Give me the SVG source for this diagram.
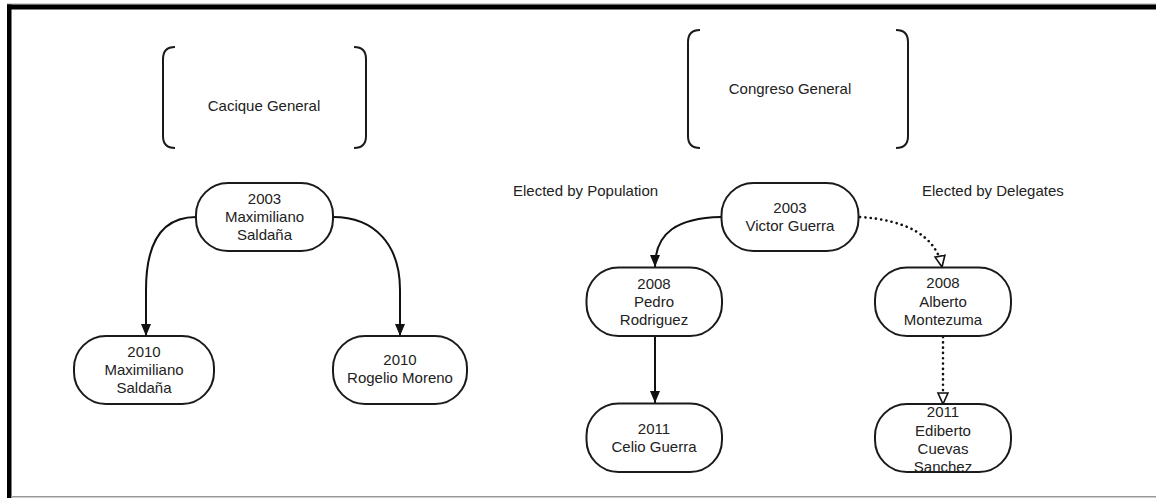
<svg xmlns="http://www.w3.org/2000/svg" width="1156" height="498" viewBox="0 0 1156 498">
<style>
  .node rect { fill: #fff; stroke: #1a1a1a; stroke-width: 2; }
  .bracket { fill: none; stroke: #1a1a1a; stroke-width: 2; }
  text { font-family: "Liberation Sans", Arial, sans-serif; font-size: 15px; fill: #222; }
  .c { text-anchor: middle; }
  .solid { fill: none; stroke: #111; stroke-width: 2; }
  .dotted { fill: none; stroke: #111; stroke-width: 2.6; stroke-dasharray: 0.1 5.2; stroke-linecap: round; }
</style>
<defs>
  <marker id="arrowFilled" markerUnits="userSpaceOnUse" markerWidth="12" markerHeight="12" refX="12" refY="5" orient="auto">
    <path d="M0,0 L12,5 L0,10 Z" fill="#111"/>
  </marker>
  <marker id="arrowHollow" markerUnits="userSpaceOnUse" markerWidth="14" markerHeight="14" refX="12" refY="6" orient="auto">
    <path d="M1,1 L12,6 L1,11 Z" fill="#fff" stroke="#111" stroke-width="1.6"/>
  </marker>
</defs>
<rect width="1156" height="498" fill="#fff"/>
<!-- frame -->
<rect x="7" y="3.5" width="1149" height="1" fill="#aaa"/>
<rect x="7" y="4.5" width="1149" height="5" fill="#000"/>
<rect x="7" y="4.5" width="4.5" height="493.5" fill="#000"/>
<rect x="11" y="496" width="1145" height="1.5" fill="#999"/>

<g id="cacique-general">
  <path class="bracket" d="M175,47 Q163,47 163,59 L163,136 Q163,148 175,148"/>
  <path class="bracket" d="M354,47 Q366,47 366,59 L366,136 Q366,148 354,148"/>
  <text class="c" x="264" y="111">Cacique General</text>
</g>
<g id="congreso-general">
  <path class="bracket" d="M700,30 Q688,30 688,42 L688,136 Q688,148 700,148"/>
  <path class="bracket" d="M896,30 Q908,30 908,42 L908,136 Q908,148 896,148"/>
  <text class="c" x="790" y="94">Congreso General</text>
</g>
<g id="label-population"><text x="513" y="196">Elected by Population</text></g>
<g id="label-delegates"><text x="922" y="196">Elected by Delegates</text></g>

<g id="connectors">
  <path class="solid" d="M196,217 C160,217 146,245 146,290 L146,336" marker-end="url(#arrowFilled)"/>
  <path class="solid" d="M333,217 C375,217 400,245 400,290 L400,336" marker-end="url(#arrowFilled)"/>
  <path class="solid" d="M721,217 C678,218 655,232 655,267" marker-end="url(#arrowFilled)"/>
  <path class="solid" d="M655,336 L655,403" marker-end="url(#arrowFilled)"/>
  <path class="dotted" d="M860,217 C905,220 936,235 942,267" marker-end="url(#arrowHollow)"/>
  <path class="dotted" d="M943,337 L943,404" marker-end="url(#arrowHollow)"/>
</g>

<g id="n-maximiliano-2003" class="node">
  <rect x="196" y="183" width="137" height="68" rx="32" ry="32"/>
  <text class="c" x="264.5" y="203.5">2003</text>
  <text class="c" x="264.5" y="221.5">Maximiliano</text>
  <text class="c" x="264.5" y="239.5">Saldaña</text>
</g>
<g id="n-maximiliano-2010" class="node">
  <rect x="74" y="336" width="140" height="68" rx="32" ry="32"/>
  <text class="c" x="144" y="356.5">2010</text>
  <text class="c" x="144" y="374.5">Maximiliano</text>
  <text class="c" x="144" y="392.5">Saldaña</text>
</g>
<g id="n-rogelio-2010" class="node">
  <rect x="333" y="336" width="134" height="68" rx="32" ry="32"/>
  <text class="c" x="400" y="365">2010</text>
  <text class="c" x="400" y="383">Rogelio Moreno</text>
</g>
<g id="n-victor-2003" class="node">
  <rect x="721.5" y="183" width="137" height="68" rx="32" ry="32"/>
  <text class="c" x="790" y="212.5">2003</text>
  <text class="c" x="790" y="231">Victor Guerra</text>
</g>
<g id="n-pedro-2008" class="node">
  <rect x="586.5" y="267.5" width="135.5" height="68.5" rx="32" ry="32"/>
  <text class="c" x="654" y="288.5">2008</text>
  <text class="c" x="654" y="306.5">Pedro</text>
  <text class="c" x="654" y="324.5">Rodriguez</text>
</g>
<g id="n-celio-2011" class="node">
  <rect x="586.5" y="403.5" width="135.5" height="68.5" rx="32" ry="32"/>
  <text class="c" x="654" y="433.5">2011</text>
  <text class="c" x="654" y="451.5">Celio Guerra</text>
</g>
<g id="n-alberto-2008" class="node">
  <rect x="875" y="267.5" width="136" height="68.5" rx="32" ry="32"/>
  <text class="c" x="943" y="288">2008</text>
  <text class="c" x="943" y="306.5">Alberto</text>
  <text class="c" x="943" y="325">Montezuma</text>
</g>
<g id="n-ediberto-2011" class="node">
  <rect x="875" y="404" width="136" height="68" rx="32" ry="32"/>
  <text class="c" x="943" y="417">2011</text>
  <text class="c" x="943" y="435.5">Ediberto</text>
  <text class="c" x="943" y="453.5">Cuevas</text>
  <text class="c" x="943" y="472">Sanchez</text>
</g>
</svg>
